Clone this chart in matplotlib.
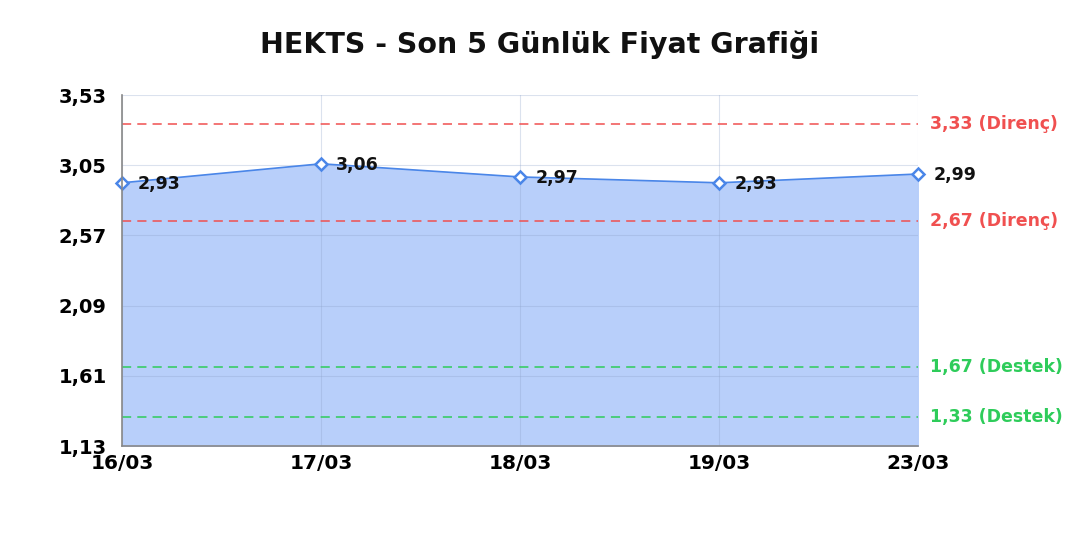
import matplotlib.pyplot as plt
import matplotlib.transforms as mtransforms

plt.rcParams['font.family'] = ['DejaVu Sans']

dates = ['16/03', '17/03', '18/03', '19/03', '23/03']
prices = [2.93, 3.06, 2.97, 2.93, 2.99]
yticks = [1.13, 1.61, 2.09, 2.57, 3.05, 3.53]
resistance = [3.33, 2.67]
support = [1.67, 1.33]

fig = plt.figure(figsize=(10.8, 5.4), dpi=100)
ax = fig.add_axes([0.113, 0.174, 0.737, 0.65])

x = list(range(len(dates)))
ax.fill_between(x, prices, yticks[0], color='#b8cffa', zorder=1)
ax.plot(x, prices, color='#4a86e8', lw=1.2, marker='D', ms=6,
        mfc='white', mec='#4a86e8', mew=1.8, zorder=4, clip_on=False)

for xi, p in zip(x, prices):
    ax.annotate(f'{p:.2f}'.replace('.', ','), (xi, p), xytext=(11, -1),
                textcoords='offset points', ha='left', va='center',
                fontsize=12.5, fontweight='bold', color='#111111', zorder=5)

trans = mtransforms.blended_transform_factory(ax.transAxes, ax.transData)
for r in resistance:
    ax.axhline(r, color='#f05050', ls=(0, (6, 4)), lw=1.1, zorder=3)
    ax.text(1.015, r, f'{r:.2f}'.replace('.', ',') + ' (Direnç)', transform=trans,
            ha='left', va='center', fontsize=12.5, fontweight='bold', color='#f05050')
for s in support:
    ax.axhline(s, color='#2ecc5a', ls=(0, (6, 4)), lw=1.1, zorder=3)
    ax.text(1.015, s, f'{s:.2f}'.replace('.', ',') + ' (Destek)', transform=trans,
            ha='left', va='center', fontsize=12.5, fontweight='bold', color='#2ecc5a')

ax.set_xlim(0, len(dates) - 1)
ax.set_ylim(yticks[0], yticks[-1])
ax.set_xticks(x)
ax.set_xticklabels(dates)
ax.set_yticks(yticks)
ax.set_yticklabels([f'{t:.2f}'.replace('.', ',') for t in yticks])
ax.tick_params(labelsize=14, length=0)
ax.tick_params(axis='y', pad=11)
ax.tick_params(axis='x', pad=6, labelsize=14.5)
for lab in ax.get_xticklabels() + ax.get_yticklabels():
    lab.set_fontweight('bold')

ax.grid(True, color='#8aa0c8', alpha=0.3, lw=0.8, zorder=2)
ax.set_axisbelow(False)
for side in ['top', 'right']:
    ax.spines[side].set_visible(False)
for side in ['left', 'bottom']:
    ax.spines[side].set_color('#888888')
    ax.spines[side].set_linewidth(1.2)
    ax.spines[side].set_zorder(6)

fig.suptitle('HEKTS - Son 5 Günlük Fiyat Grafiği', x=0.5, y=0.918, va='center',
             fontsize=20.5, fontweight='bold', color='#111111')

fig.savefig('out.png', dpi=100)
